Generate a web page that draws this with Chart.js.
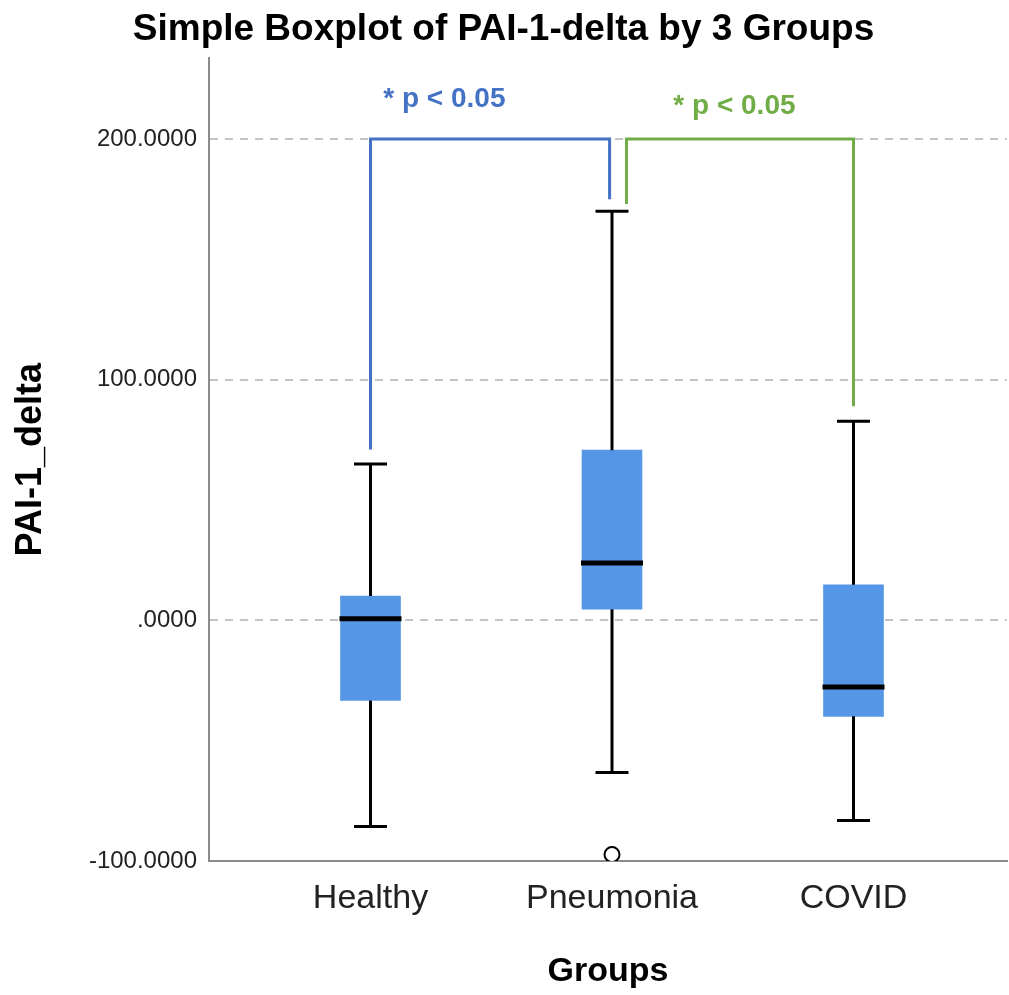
<!DOCTYPE html>
<html>
<head>
<meta charset="utf-8">
<script src="https://cdn.jsdelivr.net/npm/chart.js@4"></script>
<style>
  html, body { margin: 0; padding: 0; background: #fff; }
  #wrap { width: 1009px; height: 995px; }
</style>
</head>
<body>
<div id="wrap"><canvas id="grafico"></canvas></div>
<script>
// dados do boxplot
const categorias = ["Healthy", "Pneumonia", "COVID"];
const posicoes = [0, 1, 2];
const bigodeInferior = [-85.7, -63.2, -83.2];
const quartil1 = [-33.3, 4.6, -39.9];
const medianas = [0.7, 23.8, -27.7];
const quartil3 = [10.1, 70.7, 14.8];
const bigodeSuperior = [65, 170, 82.7];
const outlierGrupo = [1];
const outlierValor = [-97.3];
const ticksY = [-100, 0, 100, 200];

// colchetes de significancia: [xEsq, xDir], [pe esq, topo, pe dir]
const colcheteAzulX = [0, 0.99];
const colcheteAzulY = [71, 200, 175];
const colcheteVerdeX = [1.06, 2.0];
const colcheteVerdeY = [173, 200, 89];
const rotulosP = ["* p < 0.05", "* p < 0.05"];
const rotulosPX = [0.306, 1.507];
const rotulosPY = [216.5, 213.5];

const corCaixa = "#5596E6";
const corAzul = "#4472C4";
const corVerde = "#70AD47";

const pluginBoxplot = {
    id: "boxplotExtras",
    afterDatasetsDraw(chart) {
        const ctx = chart.ctx;
        const x = chart.scales.x;
        const y = chart.scales.y;
        const meiaCaixa = 31;
        const meiaHaste = 16.5;

        ctx.save();
        ctx.strokeStyle = "#000";
        ctx.lineCap = "butt";

        posicoes.forEach((p, i) => {
            const px = x.getPixelForValue(p);

            // hastes
            ctx.lineWidth = 3;
            ctx.beginPath();
            ctx.moveTo(px, y.getPixelForValue(quartil3[i]));
            ctx.lineTo(px, y.getPixelForValue(bigodeSuperior[i]));
            ctx.moveTo(px, y.getPixelForValue(quartil1[i]));
            ctx.lineTo(px, y.getPixelForValue(bigodeInferior[i]));
            ctx.stroke();

            // tampas
            ctx.beginPath();
            ctx.moveTo(px - meiaHaste, y.getPixelForValue(bigodeSuperior[i]));
            ctx.lineTo(px + meiaHaste, y.getPixelForValue(bigodeSuperior[i]));
            ctx.moveTo(px - meiaHaste, y.getPixelForValue(bigodeInferior[i]));
            ctx.lineTo(px + meiaHaste, y.getPixelForValue(bigodeInferior[i]));
            ctx.stroke();

            // mediana
            ctx.lineWidth = 5;
            ctx.beginPath();
            ctx.moveTo(px - meiaCaixa, y.getPixelForValue(medianas[i]));
            ctx.lineTo(px + meiaCaixa, y.getPixelForValue(medianas[i]));
            ctx.stroke();
        });

        // colchetes
        function colchete(xs, ys, cor) {
            ctx.strokeStyle = cor;
            ctx.lineWidth = 3;
            ctx.lineJoin = "miter";
            ctx.beginPath();
            ctx.moveTo(x.getPixelForValue(xs[0]), y.getPixelForValue(ys[0]));
            ctx.lineTo(x.getPixelForValue(xs[0]), y.getPixelForValue(ys[1]));
            ctx.lineTo(x.getPixelForValue(xs[1]), y.getPixelForValue(ys[1]));
            ctx.lineTo(x.getPixelForValue(xs[1]), y.getPixelForValue(ys[2]));
            ctx.stroke();
        }
        colchete(colcheteAzulX, colcheteAzulY, corAzul);
        colchete(colcheteVerdeX, colcheteVerdeY, corVerde);

        // textos p
        ctx.font = "bold 28px 'Liberation Sans', Arial, sans-serif";
        ctx.textAlign = "center";
        ctx.textBaseline = "middle";
        const cores = [corAzul, corVerde];
        rotulosP.forEach((t, i) => {
            ctx.fillStyle = cores[i];
            ctx.fillText(t, x.getPixelForValue(rotulosPX[i]), y.getPixelForValue(rotulosPY[i]));
        });
        ctx.restore();
    }
};

const dadosCaixas = posicoes.map((p, i) => ({ x: p, y: [quartil1[i], quartil3[i]] }));
const dadosOutlier = outlierGrupo.map((g, i) => ({ x: g, y: outlierValor[i] }));

new Chart(document.getElementById("grafico"), {
    type: "bar",
    data: {
        datasets: [
            {
                label: "caixas",
                data: dadosCaixas,
                backgroundColor: corCaixa,
                borderWidth: 0,
                barThickness: 60
            },
            {
                type: "scatter",
                label: "outlier",
                data: dadosOutlier,
                pointStyle: "circle",
                pointRadius: 7.5,
                pointBackgroundColor: "#fff",
                pointBorderColor: "#000",
                pointBorderWidth: 2,
                showLine: false
            }
        ]
    },
    options: {
        responsive: true,
        maintainAspectRatio: false,
        animation: false,
        layout: { autoPadding: false, padding: { left: 0, right: 2, top: 0, bottom: 0 } },
        plugins: {
            legend: { display: false },
            tooltip: { enabled: false },
            title: {
                display: true,
                text: "Simple Boxplot of PAI-1-delta by 3 Groups",
                color: "#000",
                font: { family: "'Liberation Sans', Arial, sans-serif", size: 37, weight: "bold" },
                padding: { top: 8, bottom: 6 }
            }
        },
        scales: {
            x: {
                type: "linear",
                min: -0.6687,
                max: 2.6356,
                offset: false,
                afterBuildTicks: scale => { scale.ticks = posicoes.map(v => ({ value: v })); },
                afterFit: scale => { scale.height = 134; },
                ticks: {
                    color: "#222",
                    padding: 17,
                    font: { family: "'Liberation Sans', Arial, sans-serif", size: 34 },
                    callback: v => categorias[v] ?? ""
                },
                grid: { display: false, offset: false, drawTicks: false },
                border: { display: true, color: "#8c8c8c", width: 2 },
                title: {
                    display: true,
                    text: "Groups",
                    color: "#000",
                    font: { family: "'Liberation Sans', Arial, sans-serif", size: 34, weight: "bold" },
                    padding: { top: 0, bottom: 3 }
                }
            },
            y: {
                type: "linear",
                min: -100,
                max: 233.5,
                afterBuildTicks: scale => { scale.ticks = ticksY.map(v => ({ value: v })); },
                afterFit: scale => { scale.width = 209; },
                ticks: {
                    color: "#222",
                    padding: 12,
                    font: { family: "'Liberation Sans', Arial, sans-serif", size: 24 },
                    callback: v => v.toFixed(4).replace(/^0\./, ".")
                },
                grid: {
                    drawTicks: false,
                    color: ctx => (ctx.tick && ctx.tick.value === -100 ? "rgba(0,0,0,0)" : "#c4c4c4"),
                    lineWidth: 2
                },
                border: { display: true, color: "#8c8c8c", width: 2, dash: [8, 7] },
                title: {
                    display: true,
                    text: "PAI-1_delta",
                    color: "#000",
                    font: { family: "'Liberation Sans', Arial, sans-serif", size: 36, weight: "bold" },
                    padding: { top: 9, bottom: 0 }
                }
            }
        }
    },
    plugins: [pluginBoxplot]
});
</script>
</body>
</html>
